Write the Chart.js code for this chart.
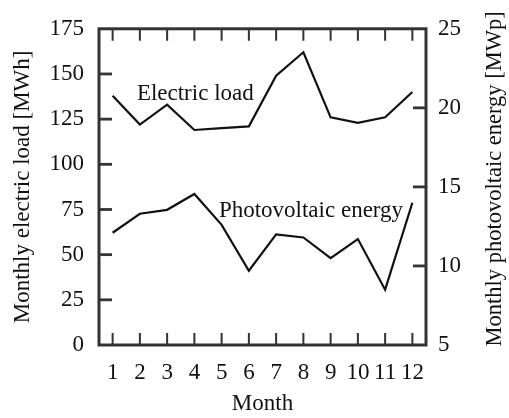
<!DOCTYPE html>
<html>
<head>
<meta charset="utf-8">
<script src="https://cdn.jsdelivr.net/npm/chart.js@4"></script>
<style>
  body { margin: 0; background: #fff; }
  #wrap { width: 509px; height: 418px; }
</style>
</head>
<body>
<div id="wrap"><canvas id="loadChart" width="509" height="418"></canvas></div>
<script>
const months = ["1", "2", "3", "4", "5", "6", "7", "8", "9", "10", "11", "12"];
const electricLoad = [138, 122, 133, 119, 120, 121, 149, 162, 126, 123, 126, 140];   // MWh
const pvEnergy = [12.1, 13.3, 13.55, 14.55, 12.6, 9.7, 12.0, 11.8, 10.5, 11.7, 8.5, 14.0]; // MWp
const loadTicks = [0, 25, 50, 75, 100, 125, 150, 175];
const pvTicks = [5, 10, 15, 20, 25];

const serif = "'Liberation Serif', 'Times New Roman', serif";
const ink = "#111";

// frame, inward tick marks, curve labels and the right-hand title
const framePlugin = {
  id: "frame",
  afterDraw(chart) {
    const c = chart.ctx;
    const a = chart.chartArea;
    const x = chart.scales.x, yl = chart.scales.yLoad, yr = chart.scales.yPv;
    c.save();
    c.strokeStyle = "#333";

    c.lineWidth = 2;
    months.forEach((m, i) => {
      const px = x.getPixelForValue(i);
      c.beginPath();
      c.moveTo(px, a.bottom); c.lineTo(px, a.bottom - 12);
      c.moveTo(px, a.top); c.lineTo(px, a.top + 12);
      c.stroke();
    });

    c.lineWidth = 2.8;
    loadTicks.slice(1, -1).forEach(v => {
      const py = yl.getPixelForValue(v);
      c.beginPath(); c.moveTo(a.left, py); c.lineTo(a.left + 13, py); c.stroke();
    });
    pvTicks.slice(1, -1).forEach(v => {
      const py = yr.getPixelForValue(v);
      c.beginPath(); c.moveTo(a.right, py); c.lineTo(a.right - 13, py); c.stroke();
    });

    c.lineWidth = 3;
    c.strokeRect(a.left, a.top, a.right - a.left, a.bottom - a.top);

    c.fillStyle = ink;
    c.font = "23px " + serif;
    c.textAlign = "left";
    c.textBaseline = "alphabetic";
    c.fillText("Electric load", x.getPixelForValue(0.89), yl.getPixelForValue(135.8));
    c.fillText("Photovoltaic energy", x.getPixelForValue(3.9), yr.getPixelForValue(13.1));

    c.font = "22.5px " + serif;
    c.textAlign = "center";
    c.textBaseline = "middle";
    c.translate(495, (a.top + a.bottom) / 2 - 8);
    c.rotate(-Math.PI / 2);
    c.fillText("Monthly photovoltaic energy [MWp]", 0, 0);
    c.restore();
  }
};

const config = {
  type: "line",
  data: {
    labels: months,
    datasets: [
      {
        label: "Electric load",
        data: electricLoad,
        yAxisID: "yLoad",
        borderColor: ink,
        borderWidth: 2.2,
        pointRadius: 0,
        tension: 0,
      },
      {
        label: "Photovoltaic energy",
        data: pvEnergy,
        yAxisID: "yPv",
        borderColor: ink,
        borderWidth: 2.2,
        pointRadius: 0,
        tension: 0,
      },
    ],
  },
  options: {
    responsive: false,
    animation: false,
    layout: { padding: { top: 19, left: 0, right: 0, bottom: 0 } },
    plugins: {
      legend: { display: false },
      tooltip: { enabled: false },
    },
    scales: {
      x: {
        type: "category",
        offset: true,
        grid: { display: false, drawTicks: false },
        border: { display: false },
        ticks: {
          color: ink, font: { family: serif, size: 23 },
          padding: 14, autoSkip: false, maxRotation: 0,
        },
        title: {
          display: true, text: "Month", color: ink,
          font: { family: serif, size: 23 }, padding: 0,
        },
        afterFit(s) { s.height = 73; },
      },
      yLoad: {
        position: "left",
        min: 0, max: 175,
        grid: { display: false, drawTicks: false },
        border: { display: false },
        ticks: { stepSize: 25, color: ink, font: { family: serif, size: 23 }, padding: 15 },
        title: {
          display: true, text: "Monthly electric load [MWh]", color: ink,
          font: { family: serif, size: 23 }, padding: { top: 9, bottom: 0 },
        },
        afterFit(s) { s.width = 99; },
      },
      yPv: {
        position: "right",
        min: 5, max: 25,
        grid: { display: false, drawTicks: false },
        border: { display: false },
        ticks: { stepSize: 5, color: ink, font: { family: serif, size: 23 }, padding: 12 },
        afterFit(s) { s.width = 83; },
      },
    },
  },
  plugins: [framePlugin],
};

const loadChart = new Chart(document.getElementById("loadChart"), config);
</script>
</body>
</html>
